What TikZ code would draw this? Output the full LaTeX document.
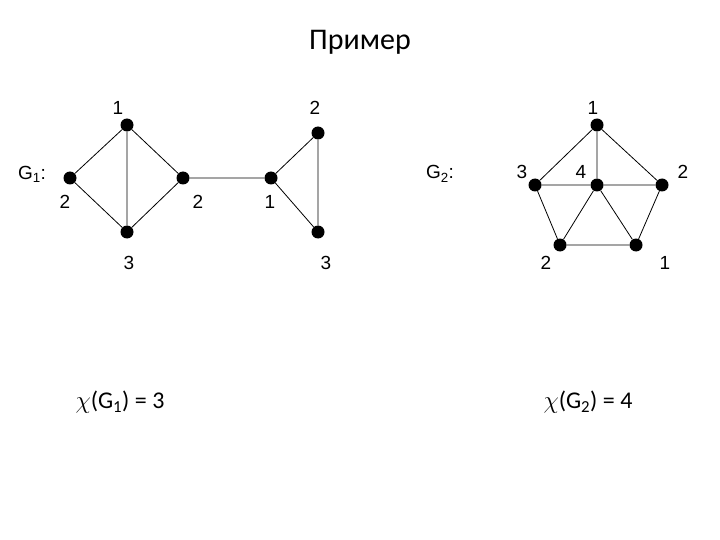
\documentclass[tikz,border=0pt]{standalone}
\usepackage{fontspec}
\setmainfont{Carlito}
\newfontfamily\lab{Liberation Sans}
\begin{document}
\begin{tikzpicture}[x=1pt,y=-1pt,
  v/.style={circle,fill=black,inner sep=0pt,minimum size=13pt},
  lb/.style={font=\lab\fontsize{19}{19}\selectfont},
  e/.style={line width=0.8pt}]
\useasboundingbox (0,0) rectangle (720,540);
\node[font=\fontsize{30}{30}\selectfont] (t) at (360,42) {Пример};
% G1
\node[v] (a1) at (127,125) {};
\node[v] (a2) at (70,178) {};
\node[v] (a3) at (127,232) {};
\node[v] (a4) at (183,178) {};
\node[v] (a5) at (271,178) {};
\node[v] (a6) at (318,133) {};
\node[v] (a7) at (318,232) {};
\draw[e] (a1)--(a2) (a1)--(a3) (a1)--(a4) (a2)--(a3) (a3)--(a4) (a4)--(a5) (a5)--(a6) (a5)--(a7) (a6)--(a7);
\node[lb] (l1) at (118,108) {1};
\node[lb] (l2) at (65,202) {2};
\node[lb] (l3) at (129,263) {3};
\node[lb] (l4) at (198,202) {2};
\node[lb] (l5) at (270,202) {1};
\node[lb] (l6) at (315,108) {2};
\node[lb] (l7) at (326,263) {3};
\node[lb] (g1) at (32,174) {G\textsubscript{1}:};
% G2
\node[v] (b1) at (597,125) {};
\node[v] (b2) at (535,185) {};
\node[v] (b3) at (597,185) {};
\node[v] (b4) at (662,185) {};
\node[v] (b5) at (560,245) {};
\node[v] (b6) at (636,245) {};
\draw[e] (b1)--(b2) (b1)--(b3) (b1)--(b4) (b2)--(b3) (b3)--(b4) (b2)--(b5) (b3)--(b5) (b3)--(b6) (b4)--(b6) (b5)--(b6);
\node[lb] (m1) at (593,108) {1};
\node[lb] (m2) at (522,172) {3};
\node[lb] (m3) at (581,172) {4};
\node[lb] (m4) at (683,172) {2};
\node[lb] (m5) at (546,263) {2};
\node[lb] (m6) at (665,263) {1};
\node[lb] (g2) at (440,174) {G\textsubscript{2}:};
\node[font=\fontsize{24}{24}\selectfont] (c1) at (120,402) {$\chi$(G\textsubscript{1}) = 3};
\node[font=\fontsize{24}{24}\selectfont] (c2) at (588,402) {$\chi$(G\textsubscript{2}) = 4};
\end{tikzpicture}
\end{document}
